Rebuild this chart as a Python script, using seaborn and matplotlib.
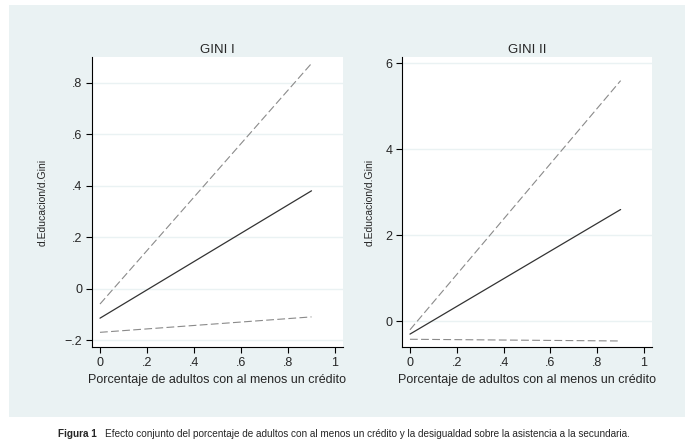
import numpy as np
import pandas as pd
import matplotlib
matplotlib.use('Agg')
import matplotlib.pyplot as plt
import seaborn as sns
from matplotlib.patches import Rectangle

# data: endpoints of the marginal effect lines (x = porcentaje de adultos)
x_vals = [0.0, 0.9]
gini1_efecto = [-0.115, 0.38]
gini1_sup = [-0.06, 0.875]
gini1_inf = [-0.17, -0.11]
gini2_efecto = [-0.30, 2.60]
gini2_sup = [-0.20, 5.60]
gini2_inf = [-0.42, -0.46]

xticks = [0, 0.2, 0.4, 0.6, 0.8, 1.0]
xtick_labels = ['0', '.2', '.4', '.6', '.8', '1']
yticks1 = [-0.2, 0, 0.2, 0.4, 0.6, 0.8]
ytick_labels1 = ['\u2212.2', '0', '.2', '.4', '.6', '.8']
yticks2 = [0, 2, 4, 6]
ytick_labels2 = ['0', '2', '4', '6']

sns.set_style('white')
plt.rcParams['font.family'] = ['Liberation Sans', 'DejaVu Sans']

fig = plt.figure(figsize=(6.92, 4.46), dpi=100)
fig.patch.set_facecolor('white')
panel = '#EAF2F3'
fig.patches.append(Rectangle((9 / 692, 1 - 417 / 446), 676 / 692, 412 / 446,
                             transform=fig.transFigure, facecolor=panel,
                             edgecolor='none', zorder=-10))


def draw(ax, efecto, sup, inf, title, yt, ytl, ylim, ypad):
    df = pd.DataFrame({'x': x_vals, 'efecto': efecto, 'sup': sup, 'inf': inf})
    for yv in yt:
        ax.axhline(yv, color=panel, lw=1.0, zorder=0)
    sns.lineplot(data=df, x='x', y='sup', ax=ax, color='#8a8a8a', lw=0.8,
                 linestyle=(0, (7, 3)))
    sns.lineplot(data=df, x='x', y='inf', ax=ax, color='#8a8a8a', lw=0.8,
                 linestyle=(0, (7, 3)))
    sns.lineplot(data=df, x='x', y='efecto', ax=ax, color='#333333', lw=0.9)
    ax.set_xlim(-0.034, 1.034)
    ax.set_ylim(*ylim)
    ax.set_xticks(xticks)
    ax.set_xticklabels(xtick_labels)
    ax.set_yticks(yt)
    ax.set_yticklabels(ytl)
    ax.set_facecolor('white')
    for s in ['top', 'right']:
        ax.spines[s].set_visible(False)
    for s in ['left', 'bottom']:
        ax.spines[s].set_color('black')
        ax.spines[s].set_linewidth(0.8)
    ax.tick_params(axis='both', which='both', direction='out', length=4,
                   width=0.8, color='black', labelsize=9, pad=3,
                   left=True, bottom=True)
    ax.set_title(title, fontsize=9.5, pad=3)
    ax.set_xlabel('Porcentaje de adultos con al menos un crédito', fontsize=9, labelpad=4)
    ax.set_ylabel('d.Educacion/d.Gini', fontsize=7.5, labelpad=ypad)


ax1 = fig.add_axes([92 / 692, 1 - 347 / 446, 251 / 692, 290 / 446])
draw(ax1, gini1_efecto, gini1_sup, gini1_inf, 'GINI I', yticks1, ytick_labels1,
     (-0.227, 0.90), 12)
ax2 = fig.add_axes([402 / 692, 1 - 347 / 446, 250 / 692, 290 / 446])
draw(ax2, gini2_efecto, gini2_sup, gini2_inf, 'GINI II', yticks2, ytick_labels2,
     (-0.6, 6.15), 8)

fig.text(58 / 692, 1 - 434 / 446, 'Figura 1', fontsize=7.2, fontweight='bold',
         va='center', ha='left')
fig.text(105 / 692, 1 - 434 / 446,
         'Efecto conjunto del porcentaje de adultos con al menos un crédito y la desigualdad sobre la asistencia a la secundaria.',
         fontsize=7.2, va='center', ha='left')

fig.savefig('out.png', dpi=100, facecolor='white')
